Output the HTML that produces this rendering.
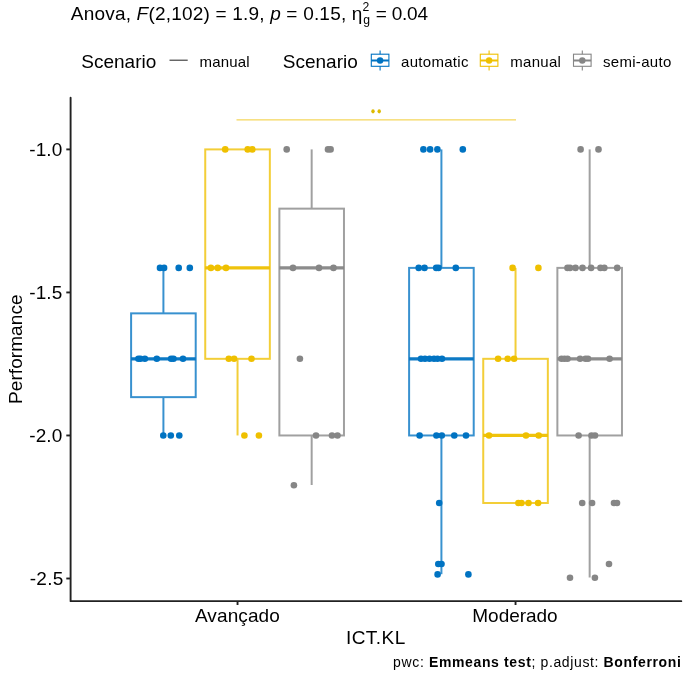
<!DOCTYPE html>
<html><head><meta charset="utf-8"><style>
html,body{margin:0;padding:0;background:#fff;width:685px;height:674px;overflow:hidden}
svg{display:block;font-family:"Liberation Sans", sans-serif;will-change:transform}
</style></head><body>
<svg width="685" height="674" viewBox="0 0 685 674" fill="#000">
<g stroke="#000" stroke-width="1.9" opacity="0.87">
<path d="M70.6 97.8 V601.15 H681.3" fill="none" stroke-linejoin="round" stroke-linecap="round"/>
<line x1="66.3" y1="149.4" x2="70.6" y2="149.4"/>
<line x1="66.3" y1="292.44" x2="70.6" y2="292.44"/>
<line x1="66.3" y1="435.47" x2="70.6" y2="435.47"/>
<line x1="66.3" y1="578.5" x2="70.6" y2="578.5"/>
<line x1="237.54" y1="601.1" x2="237.54" y2="605.0"/>
<line x1="515.54" y1="601.1" x2="515.54" y2="605.0"/>
</g>
<text x="29.20" y="155.9" font-size="19" textLength="33.15" lengthAdjust="spacing">-1.0</text>
<text x="29.20" y="298.9" font-size="19" textLength="33.15" lengthAdjust="spacing">-1.5</text>
<text x="29.20" y="442.0" font-size="19" textLength="33.15" lengthAdjust="spacing">-2.0</text>
<text x="29.70" y="585.0" font-size="19" textLength="33.55" lengthAdjust="spacing">-2.5</text>
<text x="194.90" y="622.4" font-size="19" textLength="84.97" lengthAdjust="spacing">Avançado</text>
<text x="472.30" y="622.4" font-size="19" textLength="85.36" lengthAdjust="spacing">Moderado</text>
<text x="345.90" y="643.8" font-size="19" textLength="59.43" lengthAdjust="spacing">ICT.KL</text>
<g stroke="#0073C2" fill="none" stroke-width="2.0" opacity="0.78">
<line x1="163.41" y1="267.89" x2="163.41" y2="313.36"/>
<line x1="163.41" y1="397.14" x2="163.41" y2="435.47"/>
<rect x="131.11" y="313.36" width="64.60" height="83.78"/>
</g>
<line x1="131.11" y1="358.82" x2="195.71" y2="358.82" stroke="#0073C2" stroke-width="3.3" opacity="0.95"/>
<g stroke="#EFC000" fill="none" stroke-width="2.0" opacity="0.78">
<line x1="237.54" y1="358.82" x2="237.54" y2="435.47"/>
<rect x="205.24" y="149.4" width="64.60" height="209.42"/>
</g>
<line x1="205.24" y1="267.89" x2="269.84" y2="267.89" stroke="#EFC000" stroke-width="3.3" opacity="0.95"/>
<g stroke="#868686" fill="none" stroke-width="2.0" opacity="0.78">
<line x1="311.67" y1="149.4" x2="311.67" y2="208.65"/>
<line x1="311.67" y1="435.47" x2="311.67" y2="485.0"/>
<rect x="279.37" y="208.65" width="64.60" height="226.82"/>
</g>
<line x1="279.37" y1="267.89" x2="343.97" y2="267.89" stroke="#868686" stroke-width="3.3" opacity="0.95"/>
<g stroke="#0073C2" fill="none" stroke-width="2.0" opacity="0.78">
<line x1="441.41" y1="149.4" x2="441.41" y2="267.89"/>
<line x1="441.41" y1="435.47" x2="441.41" y2="574.2"/>
<rect x="409.11" y="267.89" width="64.60" height="167.58"/>
</g>
<line x1="409.11" y1="358.82" x2="473.71" y2="358.82" stroke="#0073C2" stroke-width="3.3" opacity="0.95"/>
<g stroke="#EFC000" fill="none" stroke-width="2.0" opacity="0.78">
<line x1="515.54" y1="267.89" x2="515.54" y2="358.82"/>
<rect x="483.24" y="358.82" width="64.60" height="144.18"/>
</g>
<line x1="483.24" y1="435.47" x2="547.84" y2="435.47" stroke="#EFC000" stroke-width="3.3" opacity="0.95"/>
<g stroke="#868686" fill="none" stroke-width="2.0" opacity="0.78">
<line x1="589.67" y1="149.4" x2="589.67" y2="267.89"/>
<line x1="589.67" y1="435.47" x2="589.67" y2="577.5"/>
<rect x="557.37" y="267.89" width="64.60" height="167.58"/>
</g>
<line x1="557.37" y1="358.82" x2="621.97" y2="358.82" stroke="#868686" stroke-width="3.3" opacity="0.95"/>
<g fill="#0073C2">
<circle cx="160.0" cy="267.89" r="3.3"/>
<circle cx="164.1" cy="267.89" r="3.3"/>
<circle cx="178.7" cy="267.89" r="3.3"/>
<circle cx="189.8" cy="267.89" r="3.3"/>
<circle cx="138.4" cy="358.82" r="3.3"/>
<circle cx="140.5" cy="358.82" r="3.3"/>
<circle cx="144.9" cy="358.82" r="3.3"/>
<circle cx="156.8" cy="358.82" r="3.3"/>
<circle cx="171.1" cy="358.82" r="3.3"/>
<circle cx="173.5" cy="358.82" r="3.3"/>
<circle cx="183" cy="358.82" r="3.3"/>
<circle cx="163.3" cy="435.47" r="3.3"/>
<circle cx="170.8" cy="435.47" r="3.3"/>
<circle cx="179.3" cy="435.47" r="3.3"/>
<circle cx="423.4" cy="149.4" r="3.3"/>
<circle cx="430.1" cy="149.4" r="3.3"/>
<circle cx="437.4" cy="149.4" r="3.3"/>
<circle cx="462.8" cy="149.4" r="3.3"/>
<circle cx="418.7" cy="267.89" r="3.3"/>
<circle cx="424.5" cy="267.89" r="3.3"/>
<circle cx="436.2" cy="267.89" r="3.3"/>
<circle cx="438.5" cy="267.89" r="3.3"/>
<circle cx="455.8" cy="267.89" r="3.3"/>
<circle cx="421" cy="358.82" r="3.3"/>
<circle cx="425" cy="358.82" r="3.3"/>
<circle cx="429.5" cy="358.82" r="3.3"/>
<circle cx="434" cy="358.82" r="3.3"/>
<circle cx="437.5" cy="358.82" r="3.3"/>
<circle cx="442" cy="358.82" r="3.3"/>
<circle cx="419.6" cy="435.47" r="3.3"/>
<circle cx="436.4" cy="435.47" r="3.3"/>
<circle cx="441.8" cy="435.47" r="3.3"/>
<circle cx="454.3" cy="435.47" r="3.3"/>
<circle cx="466" cy="435.47" r="3.3"/>
<circle cx="439.2" cy="503.0" r="3.3"/>
<circle cx="438.3" cy="564.06" r="3.3"/>
<circle cx="441.5" cy="564.06" r="3.3"/>
<circle cx="437.6" cy="574.4" r="3.3"/>
<circle cx="468.4" cy="574.4" r="3.3"/>
</g>
<g fill="#EFC000">
<circle cx="225.2" cy="149.4" r="3.3"/>
<circle cx="247.7" cy="149.4" r="3.3"/>
<circle cx="252.3" cy="149.4" r="3.3"/>
<circle cx="210.9" cy="267.89" r="3.3"/>
<circle cx="217.7" cy="267.89" r="3.3"/>
<circle cx="226" cy="267.89" r="3.3"/>
<circle cx="228.8" cy="358.82" r="3.3"/>
<circle cx="234.1" cy="358.82" r="3.3"/>
<circle cx="251.5" cy="358.82" r="3.3"/>
<circle cx="244.4" cy="435.47" r="3.3"/>
<circle cx="258.9" cy="435.47" r="3.3"/>
<circle cx="512.6" cy="267.89" r="3.3"/>
<circle cx="538.4" cy="267.89" r="3.3"/>
<circle cx="498.1" cy="358.82" r="3.3"/>
<circle cx="507.7" cy="358.82" r="3.3"/>
<circle cx="514.1" cy="358.82" r="3.3"/>
<circle cx="489" cy="435.47" r="3.3"/>
<circle cx="526" cy="435.47" r="3.3"/>
<circle cx="538.7" cy="435.47" r="3.3"/>
<circle cx="518.4" cy="503.0" r="3.3"/>
<circle cx="521.5" cy="503.0" r="3.3"/>
<circle cx="528.5" cy="503.0" r="3.3"/>
<circle cx="538.1" cy="503.0" r="3.3"/>
</g>
<g fill="#868686">
<circle cx="286.7" cy="149.4" r="3.3"/>
<circle cx="328.0" cy="149.4" r="3.3"/>
<circle cx="330.6" cy="149.4" r="3.3"/>
<circle cx="293" cy="267.89" r="3.3"/>
<circle cx="319" cy="267.89" r="3.3"/>
<circle cx="333.5" cy="267.89" r="3.3"/>
<circle cx="299.9" cy="358.82" r="3.3"/>
<circle cx="316" cy="435.47" r="3.3"/>
<circle cx="332" cy="435.47" r="3.3"/>
<circle cx="337.5" cy="435.47" r="3.3"/>
<circle cx="293.9" cy="485.3" r="3.3"/>
<circle cx="580.6" cy="149.4" r="3.3"/>
<circle cx="598.5" cy="149.4" r="3.3"/>
<circle cx="567.5" cy="267.89" r="3.3"/>
<circle cx="570" cy="267.89" r="3.3"/>
<circle cx="575.5" cy="267.89" r="3.3"/>
<circle cx="582.5" cy="267.89" r="3.3"/>
<circle cx="591.1" cy="267.89" r="3.3"/>
<circle cx="600.5" cy="267.89" r="3.3"/>
<circle cx="604.3" cy="267.89" r="3.3"/>
<circle cx="617.2" cy="267.89" r="3.3"/>
<circle cx="561.5" cy="358.82" r="3.3"/>
<circle cx="564.5" cy="358.82" r="3.3"/>
<circle cx="567.5" cy="358.82" r="3.3"/>
<circle cx="580.1" cy="358.82" r="3.3"/>
<circle cx="585.5" cy="358.82" r="3.3"/>
<circle cx="588" cy="358.82" r="3.3"/>
<circle cx="609.6" cy="358.82" r="3.3"/>
<circle cx="578.6" cy="435.47" r="3.3"/>
<circle cx="591.5" cy="435.47" r="3.3"/>
<circle cx="595" cy="435.47" r="3.3"/>
<circle cx="582.2" cy="503.0" r="3.3"/>
<circle cx="592.1" cy="503.0" r="3.3"/>
<circle cx="614" cy="503.0" r="3.3"/>
<circle cx="617" cy="503.0" r="3.3"/>
<circle cx="609.0" cy="564.06" r="3.3"/>
<circle cx="570.0" cy="577.8" r="3.3"/>
<circle cx="594.9" cy="577.8" r="3.3"/>
</g>
<line x1="236.5" y1="119.9" x2="516" y2="119.9" stroke="#EFC000" stroke-width="1" stroke-opacity="0.8"/>
<ellipse cx="373.0" cy="111.3" rx="1.7" ry="2.1" fill="#DDBA00"/><ellipse cx="379.2" cy="111.3" rx="1.7" ry="2.1" fill="#DDBA00"/>
<text transform="translate(21.7,349.2) rotate(-90)" text-anchor="middle" font-size="19" textLength="109.5" lengthAdjust="spacing">Performance</text>
<text x="70.80" y="19.7" font-size="19" textLength="291.62" lengthAdjust="spacing">Anova, <tspan font-style="italic">F</tspan>(2,102) = 1.9, <tspan font-style="italic">p</tspan> = 0.15, η</text>
<text x="362.60" y="10.8" font-size="12.2" textLength="8.18" lengthAdjust="spacing">2</text>
<text x="363.20" y="23.9" font-size="12.2" textLength="6.98" lengthAdjust="spacing">g</text>
<text x="375.80" y="19.7" font-size="19" textLength="52.16" lengthAdjust="spacing">= 0.04</text>
<text x="81.20" y="67.8" font-size="19" textLength="75.20" lengthAdjust="spacing">Scenario</text>
<text x="199.50" y="67.4" font-size="15" textLength="50.00" lengthAdjust="spacing">manual</text>
<text x="282.80" y="67.8" font-size="19" textLength="75.00" lengthAdjust="spacing">Scenario</text>
<text x="401.00" y="67.4" font-size="15" textLength="67.45" lengthAdjust="spacing">automatic</text>
<text x="510.30" y="67.4" font-size="15" textLength="50.60" lengthAdjust="spacing">manual</text>
<text x="603.00" y="67.4" font-size="15" textLength="68.26" lengthAdjust="spacing">semi-auto</text>
<text x="393.10" y="667.3" font-size="14" textLength="287.78" lengthAdjust="spacing">pwc: <tspan font-weight="bold">Emmeans test</tspan>; p.adjust: <tspan font-weight="bold">Bonferroni</tspan></text>
<line x1="169.5" y1="60.2" x2="187.7" y2="60.2" stroke="#333" stroke-width="1.1"/>
<g stroke="#0073C2" fill="none" stroke-width="1.1">
<line x1="380.1" y1="50.6" x2="380.1" y2="70.4"/>
<rect x="371.30" y="54.2" width="17.6" height="12.1" fill="#fff"/>
<line x1="371.30" y1="60.5" x2="388.90" y2="60.5" stroke-width="2"/>
</g>
<circle cx="380.1" cy="60.5" r="3.2" fill="#0073C2"/>
<g stroke="#EFC000" fill="none" stroke-width="1.1">
<line x1="489.1" y1="50.6" x2="489.1" y2="70.4"/>
<rect x="480.30" y="54.2" width="17.6" height="12.1" fill="#fff"/>
<line x1="480.30" y1="60.5" x2="497.90" y2="60.5" stroke-width="2"/>
</g>
<circle cx="489.1" cy="60.5" r="3.2" fill="#EFC000"/>
<g stroke="#868686" fill="none" stroke-width="1.1">
<line x1="582.3" y1="50.6" x2="582.3" y2="70.4"/>
<rect x="573.50" y="54.2" width="17.6" height="12.1" fill="#fff"/>
<line x1="573.50" y1="60.5" x2="591.10" y2="60.5" stroke-width="2"/>
</g>
<circle cx="582.3" cy="60.5" r="3.2" fill="#868686"/>
</svg>
</body></html>
